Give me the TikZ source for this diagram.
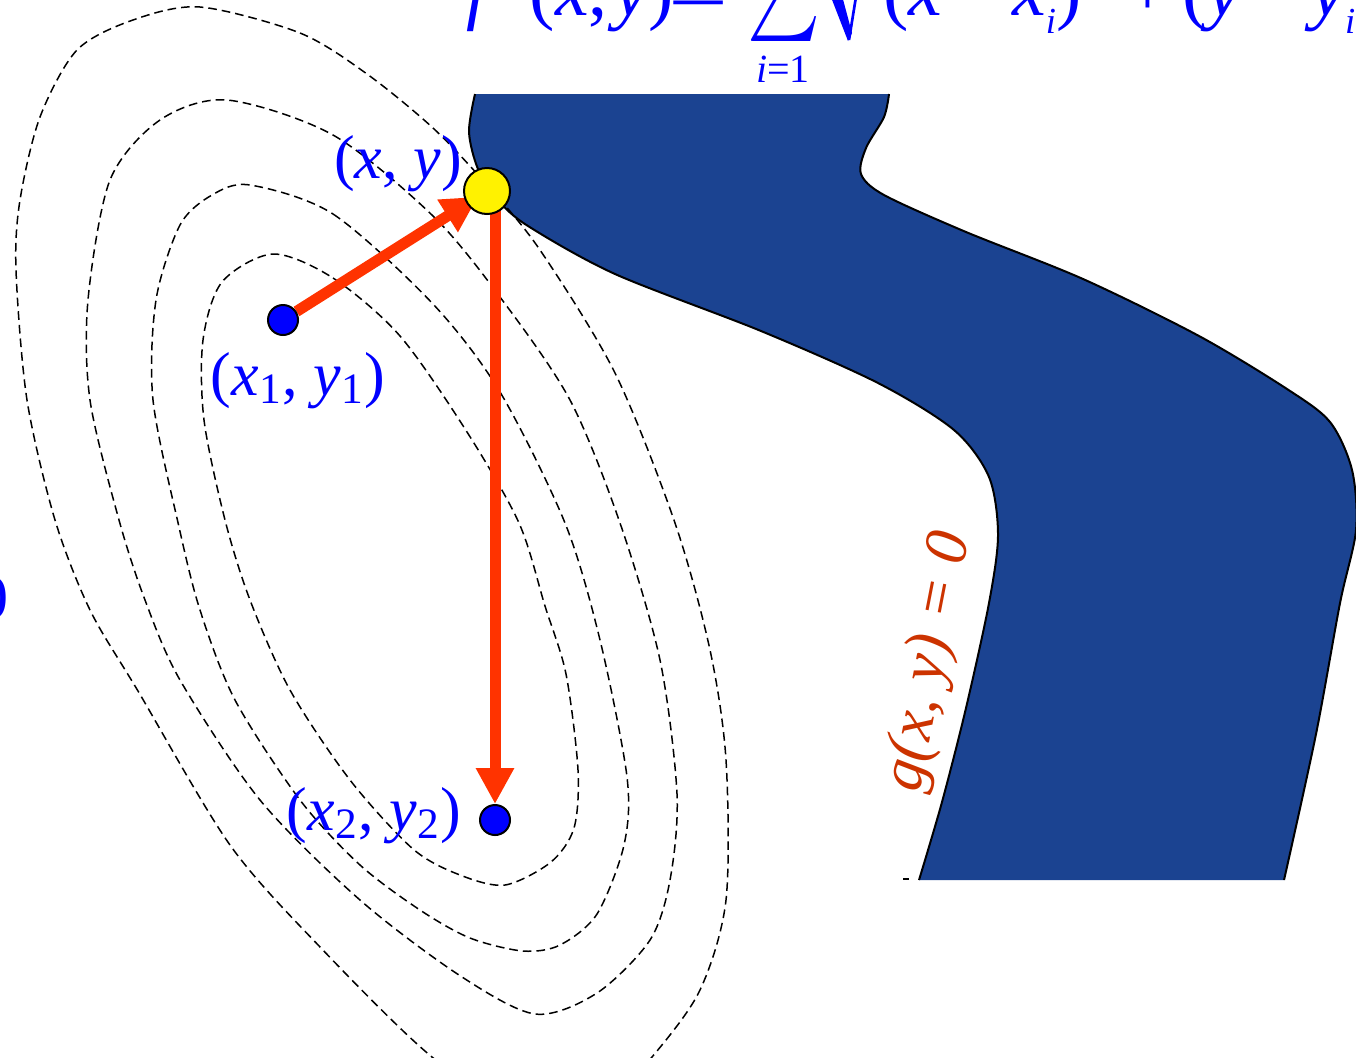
\documentclass[tikz,border=0pt]{standalone}
\usepackage{graphicx}
\usepackage{fontspec}
\setmainfont{Liberation Serif}
\usetikzlibrary{arrows.meta}
\definecolor{regblue}{RGB}{27,67,145}
\definecolor{arrred}{RGB}{255,51,0}
\definecolor{glbl}{RGB}{204,51,0}
\definecolor{ptblue}{RGB}{0,0,255}
\newcommand{\mysubi}{\raisebox{-5.4pt}{\fontsize{11}{11}\selectfont\textit{i}}}
\newcommand{\mysupii}{\raisebox{12pt}{\fontsize{11}{11}\selectfont 2}}
\pgfdeclarelayer{bg}\pgfdeclarelayer{mid}\pgfsetlayers{bg,mid,main}
\begin{document}
\begin{tikzpicture}[x=0.3pt,y=-0.3pt,
  lbl/.style={text=ptblue, font=\fontsize{18.6}{22}\selectfont, inner sep=0pt},
  fbig/.style={text=ptblue, font=\fontsize{22.8}{26}\selectfont, inner sep=0pt},
  glabel/.style={text=glbl, font=\fontsize{18.6}{22}\selectfont\itshape, inner sep=0pt, rotate=79},
  contour/.style={black, line width=0.45pt, dash pattern=on 2.6pt off 1.5pt},
  region/.style={fill=regblue, draw=none},
  rim/.style={draw=black, line width=0.6pt},
  bdot/.style={circle, fill=ptblue, draw=black, line width=0.6pt, minimum size=9pt, inner sep=0pt},
  ydot/.style={circle, fill=yellow, draw=black, line width=0.6pt, minimum size=13.8pt, inner sep=0pt},
  arr/.style={arrred, line width=3.3pt, -{Triangle[length=10.8pt,width=10.8pt]}}]
\useasboundingbox (0,0) rectangle (1356,1057);
\begin{pgfonlayer}{bg}
\begin{scope}
\clip (0,0) rectangle (1356,1057);
% constraint region g(x,y)=0
\fill[region] plot[smooth] coordinates {(475,94) (469,132) (478,169) (498,200) (528,226) (615,274) (761,331) (878,383) (954,430) (989,477) (998,535) (989,603) (966,708) (942,802) (919,880)}
  -- plot[smooth] coordinates {(1284,880) (1316,734) (1340,603) (1356,530) (1352,470) (1330,422) (1287,389) (1199,336) (1083,279) (966,232) (884,195) (861,174) (866,148) (884,117) (889,94)} -- cycle;
\draw[rim] plot[smooth] coordinates {(475,94) (469,132) (478,169) (498,200) (528,226) (615,274) (761,331) (878,383) (954,430) (989,477) (998,535) (989,603) (966,708) (942,802) (919,880)};
\draw[rim] plot[smooth] coordinates {(1284,880) (1316,734) (1340,603) (1356,530) (1352,470) (1330,422) (1287,389) (1199,336) (1083,279) (966,232) (884,195) (861,174) (866,148) (884,117) (889,94)};
\draw[rim] (903,879) -- (909,879);
% level curves of f
\draw[contour] plot[smooth cycle] coordinates {(273,254) (333,278) (400,336) (467,432) (519,523) (545,606) (566,674) (578,770) (574,828) (551,862) (505,885) (460,875) (413,849) (350,780) (290,690) (250,600) (225,520) (204,420) (203,340) (222,282)};
\draw[contour] plot[smooth cycle] coordinates {(250,185) (333,214) (433,304) (500,392) (565,523) (600,640) (627,777) (624,845) (597,914) (560,945) (523,951) (470,938) (420,910) (360,865) (300,800) (235,700) (200,610) (179,527) (153,400) (156,300) (180,225) (212,195)};
\draw[contour] plot[smooth cycle] coordinates {(227,100) (333,135) (433,216) (500,297) (570,400) (620,523) (660,660) (677,794) (670,880) (650,940) (597,993) (535,1014) (459,975) (360,900) (260,800) (180,680) (145,600) (119,520) (90,400) (88,300) (110,180) (160,120)};
\draw[contour] plot[smooth cycle] coordinates {(200,7) (300,33) (367,74) (433,128) (487,185) (540,250) (615,373) (675,523) (710,650) (726,760) (726,900) (700,990) (652,1057) (600,1110) (530,1120) (432,1057) (321,948) (230,845) (138,691) (90,610) (55,520) (27,400) (16,270) (20,200) (40,117) (77,50) (133,20)};
\end{scope}
\end{pgfonlayer}
% points
\node[bdot] (p1) at (283,320) {};
\node[bdot] (p2) at (495,820) {};
\node[ydot] (pxy) at (487,191) {};
% arrows
\begin{pgfonlayer}{mid}
\draw[arr, shorten >=-4pt] (p1) -- (pxy);
\draw[arr] (p2 |- pxy) -- (p2);
\end{pgfonlayer}
% labels
\node[lbl, anchor=base] (lxy) at (398,178) {(\textit{x}, \textit{y})};
\node[lbl, anchor=base] (l1) at (298,395) {(\textit{x}\textsubscript{1}, \textit{y}\textsubscript{1})};
\node[lbl, anchor=base] (l2) at (374,830) {(\textit{x}\textsubscript{2}, \textit{y}\textsubscript{2})};
\node[glabel] (lg) at (930,662) {g(x, y) = 0};
\node[lbl, anchor=east] (lz) at (9,598) {0};
% objective function (cropped at the top)
\node[fbig, anchor=base west] (flhs) at (466,15) {\textit{f}\hspace{10pt}(\textit{x},\hspace{2pt}\textit{y})};
\node[fbig, anchor=base west] (feq) at (668,20) {\scalebox{1.4}[1]{=}};
\node[text=ptblue, anchor=south west, inner sep=0pt] (fsum) at (747,42) {\resizebox*{21.9pt}{30pt}{$\sum$}};
\node[text=ptblue, font=\fontsize{12}{12}\selectfont, inner sep=0pt] (flim) at (783,69) {\textit{i}=1};
\fill[ptblue] (829,-8) -- (841,-8) -- (852,33) -- (848,41) -- cycle;
\draw[ptblue, line width=0.8pt] (849,40) -- (870,-90);
\node[fbig, anchor=base west] (frad) at (883,15) {(\textit{x}\hspace{4pt}−\hspace{4pt}\textit{x}\mysubi)\mysupii\hspace{8pt}+\hspace{4pt}(\textit{y}\hspace{4pt}−\hspace{4pt}\textit{y}\mysubi)\mysupii};
\end{tikzpicture}
\end{document}
